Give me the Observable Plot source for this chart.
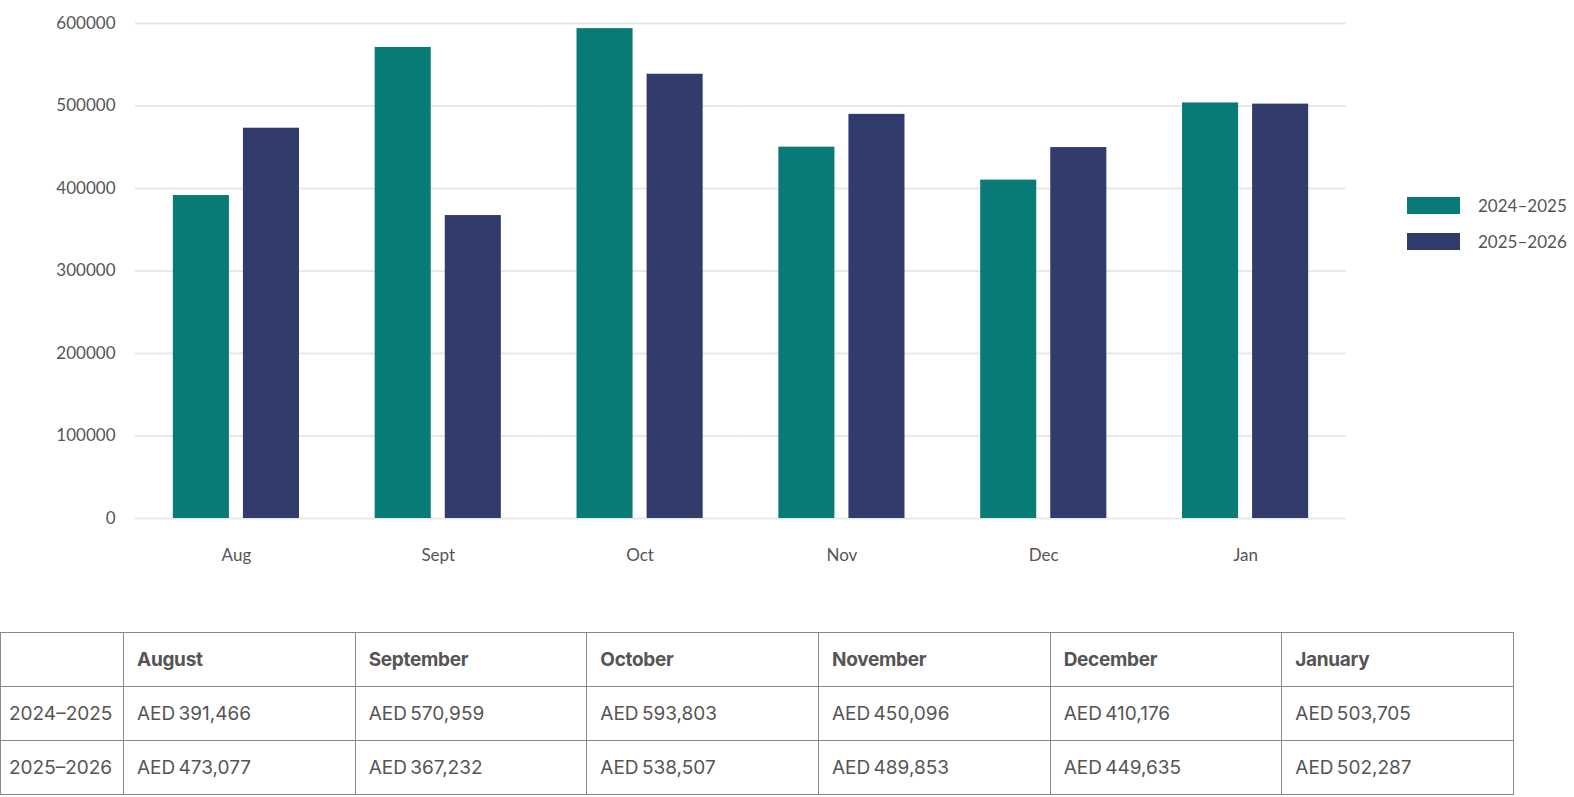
<!DOCTYPE html>
<html>
<head>
<meta charset="utf-8">
<script src="https://cdn.jsdelivr.net/npm/d3@7"></script>
<script src="https://cdn.jsdelivr.net/npm/@observablehq/plot@0.6"></script>
<style>
  html, body { margin: 0; padding: 0; background: #fff; overflow: hidden; }
  #wrap { position: relative; width: 1574px; height: 797px; }
  #chart { position: absolute; left: 0; top: 0; width: 1574px; }
  #chart svg { max-width: none; }
  #legend { position: absolute; left: 1407px; top: 197px; font-family: Lato, "Open Sans", sans-serif; font-size: 17px; color: #555; }
  .li { display: flex; align-items: center; height: 17px; margin-bottom: 19px; }
  .sw { width: 53px; height: 17px; margin-right: 18px; flex: none; }
  table { position: absolute; left: 0; top: 632px; width: 1514px; table-layout: fixed; border-collapse: collapse; font-family: Inter, "Liberation Sans", sans-serif; color: #555; font-size: 19px; word-spacing: -2px; }
  td, th { border: 1px solid #8a8a8a; height: 54px; padding: 0 0 0 13px; text-align: left; box-sizing: border-box; white-space: nowrap; }
  th { font-weight: 700; letter-spacing: -0.3px; word-spacing: 0; }
  .first { padding-left: 8px; width: 123px; }
</style>
</head>
<body>
<div id="wrap">
  <div id="chart"></div>
  <div id="legend"></div>
  <table id="tbl"></table>
</div>
<script>
const months = ["Aug", "Sept", "Oct", "Nov", "Dec", "Jan"];
const monthNames = ["August", "September", "October", "November", "December", "January"];
const seasons = ["2024–2025", "2025–2026"];
const values2425 = [391466, 570959, 593803, 450096, 410176, 503705];
const values2526 = [473077, 367232, 538507, 489853, 449635, 502287];
const yTicks = [0, 100000, 200000, 300000, 400000, 500000, 600000];
const colors = ["#087b76", "#323c6c"];

const data = months.flatMap((m, i) => [
  {month: m, season: seasons[0], value: values2425[i]},
  {month: m, season: seasons[1], value: values2526[i]}
]);

const chart = Plot.plot({
  width: 1574,
  height: 580,
  marginLeft: 135,
  marginRight: 228,
  marginTop: 23,
  marginBottom: 62,
  style: {fontFamily: "Lato, 'Open Sans', sans-serif", fontSize: "17px", color: "#555", background: "transparent"},
  fx: {domain: months, padding: 0, label: null, round: false},
  x: {domain: seasons, axis: null, paddingInner: 0.2, paddingOuter: 0.54, round: false},
  y: {domain: [0, 600000], label: null},
  color: {domain: seasons, range: colors},
  marks: [
    Plot.gridY(yTicks, {stroke: "#e8e8e8", strokeOpacity: 1, strokeWidth: 2}),
    Plot.axisY(yTicks, {tickSize: 0, tickPadding: 20, tickFormat: d3.format("d"), fill: "#555", fontSize: 17, label: null}),
    Plot.axisFx({anchor: "bottom", tickSize: 0, tickPadding: 30, fill: "#555", fontSize: 17, label: null}),
    Plot.barY(data, {fx: "month", x: "season", y: "value", fill: "season"})
  ]
});
document.getElementById("chart").appendChild(chart);

const legend = document.getElementById("legend");
seasons.forEach((s, i) => {
  const row = document.createElement("div");
  row.className = "li";
  row.innerHTML = `<div class="sw" style="background:${colors[i]}"></div><span>${s}</span>`;
  legend.appendChild(row);
});

const fmt = d3.format(",");
const tbl = document.getElementById("tbl");
let html = `<colgroup><col style="width:123px">` + monthNames.map(() => `<col>`).join("") + `</colgroup>`;
html += `<tr><th class="first"></th>` + monthNames.map(m => `<th>${m}</th>`).join("") + `</tr>`;
[values2425, values2526].forEach((vals, r) => {
  html += `<tr><td class="first">${seasons[r]}</td>` +
    vals.map(v => `<td>AED ${fmt(v)}</td>`).join("") + `</tr>`;
});
tbl.innerHTML = html;
</script>
</body>
</html>
